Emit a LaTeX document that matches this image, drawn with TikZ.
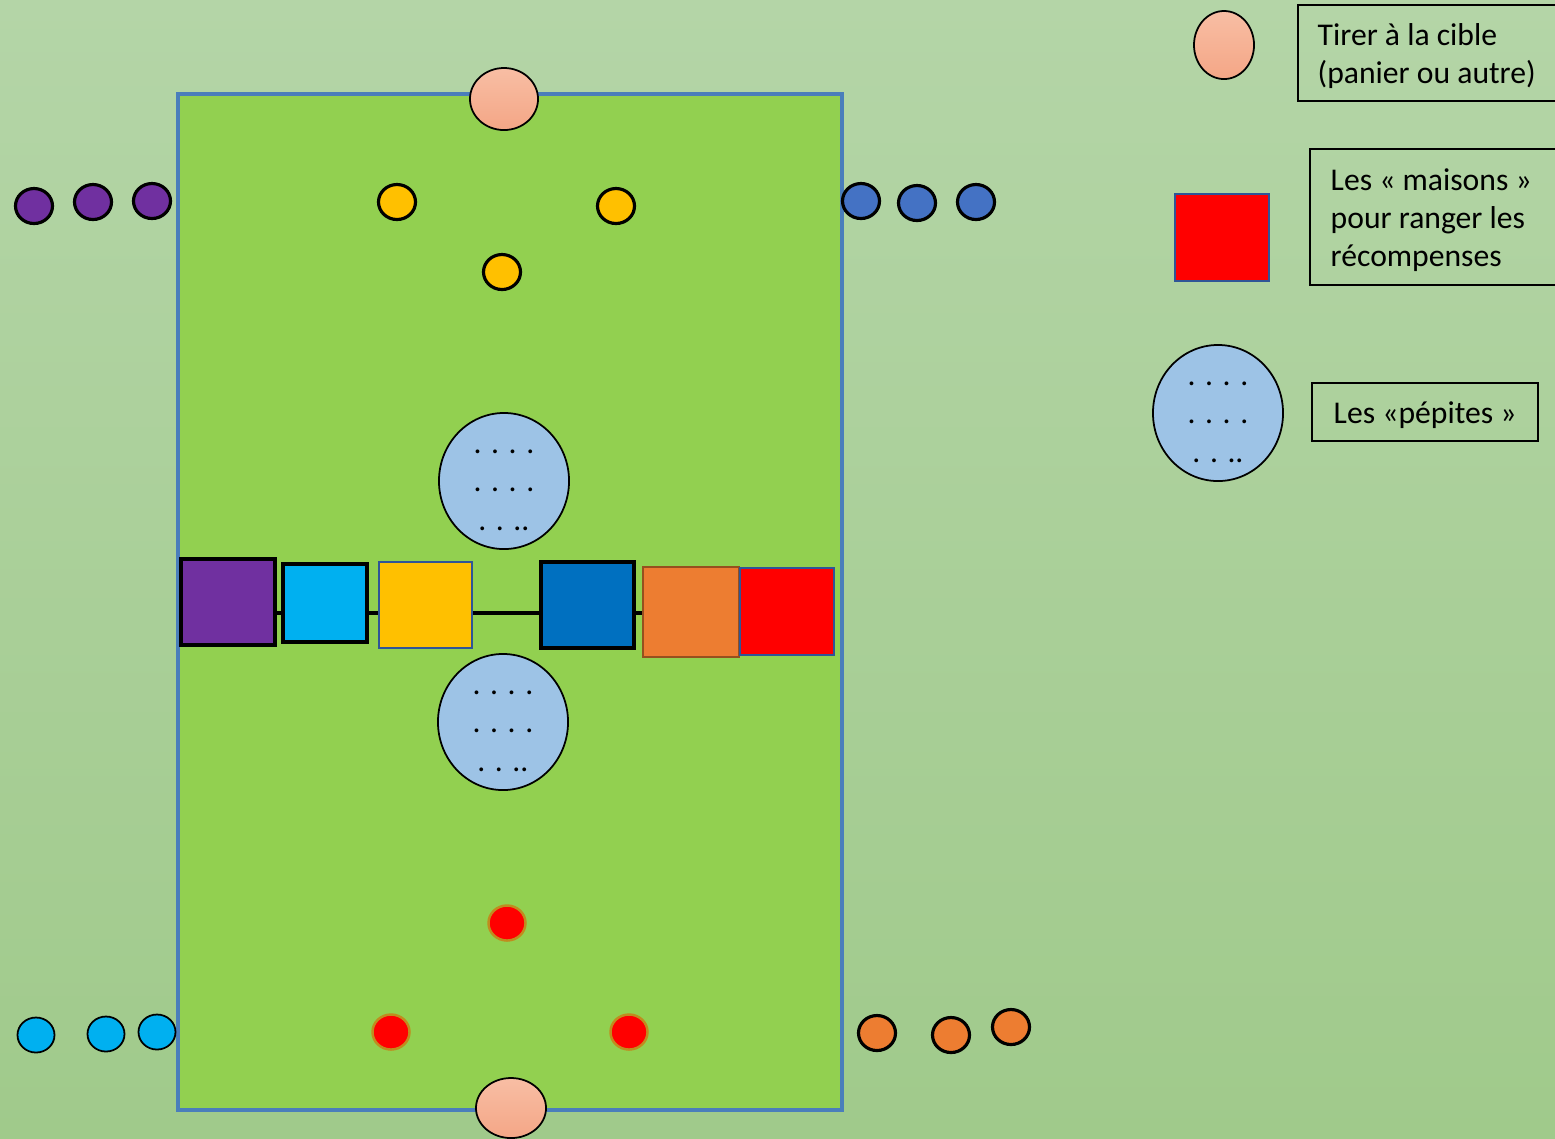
\documentclass[tikz,border=0pt]{standalone}
\usepackage{fontspec}
\setmainfont{Carlito}
\usetikzlibrary{shapes.geometric}
\definecolor{bgtop}{RGB}{180,213,167}
\definecolor{bgbot}{RGB}{160,202,139}
\definecolor{field}{RGB}{146,208,80}
\definecolor{fieldline}{RGB}{74,126,187}
\definecolor{tgtop}{RGB}{248,190,164}
\definecolor{tgbot}{RGB}{244,166,134}
\definecolor{purp}{RGB}{112,48,160}
\definecolor{sky}{RGB}{0,176,240}
\definecolor{gold}{RGB}{255,192,0}
\definecolor{dblue}{RGB}{0,112,192}
\definecolor{orng}{RGB}{237,125,49}
\definecolor{mblue}{RGB}{68,114,196}
\definecolor{pale}{RGB}{157,195,230}
\definecolor{navy}{RGB}{47,85,151}
\definecolor{redline}{RGB}{192,140,30}
\definecolor{orline}{RGB}{150,80,30}
\begin{document}
\begin{tikzpicture}[x=0.01cm,y=-0.01cm,
  target/.style={ellipse, draw=black, line width=0.5pt, inner sep=0pt, top color=tgtop, bottom color=tgbot},
  dot/.style={ellipse, draw=black, line width=0.9pt, inner sep=0pt, minimum width=0.37cm, minimum height=0.35cm},
  thindot/.style={dot, line width=0.5pt},
  reddot/.style={dot, fill=red, draw=redline, line width=0.7pt},
  pepite/.style={ellipse, draw=black, line width=0.5pt, fill=pale, inner sep=0pt, minimum width=1.30cm, minimum height=1.36cm},
  house/.style={rectangle, inner sep=0pt, line width=1.3pt, draw=black},
  dots/.style={align=center, font=\fontsize{9pt}{11pt}\selectfont, inner sep=0pt},
  legbox/.style={draw=black, line width=0.7pt},
  legtext/.style={anchor=west, align=left, inner sep=0pt, font=\fontsize{9pt}{10.8pt}\selectfont}
]
\useasboundingbox (0,0) rectangle (1555,1138);
% background
\shade[top color=bgtop, bottom color=bgbot] (0,0) rectangle (1555,1138);
% field
\draw[fill=field, draw=fieldline, line width=0.9pt] (178,94) rectangle (842,1110);

% connecting line
\coordinate (la) at (270,613);
\coordinate (lb) at (645,613);
\draw[line width=1.2pt, black] (la) -- (lb);

% houses
\node[house, fill=purp, minimum width=0.94cm, minimum height=0.86cm] (hpurple) at (228,602) {};
\node[house, fill=sky, minimum width=0.84cm, minimum height=0.78cm] (hsky) at (325,603) {};
\node[house, fill=gold, draw=navy, line width=0.8pt, minimum width=0.93cm, minimum height=0.86cm] (hgold) at (425.5,605) {};
\node[house, fill=dblue, minimum width=0.93cm, minimum height=0.86cm] (hdblue) at (587.5,605) {};
\node[house, fill=orng, draw=orline, line width=0.4pt, minimum width=0.96cm, minimum height=0.90cm] (horange) at (691,612) {};
\node[house, fill=red, draw=navy, line width=0.8pt, minimum width=0.94cm, minimum height=0.87cm] (hred) at (787,611.5) {};

% targets
\node[target, minimum width=0.68cm, minimum height=0.62cm] (ttop) at (504,99) {};
\node[target, minimum width=0.70cm, minimum height=0.60cm] (tbot) at (511,1108) {};

% pepites
\node[pepite] (ptop) at (504,481) {};
\node[dots] (ptoptext) at (504,490) {. . . .\\. . . .\\. . ..};
\node[pepite] (pbot) at (503,722) {};
\node[dots] (pbottext) at (503,731) {. . . .\\. . . .\\. . ..};

% purple dots
\node[dot, fill=purp] (pu1) at (34,206) {};
\node[dot, fill=purp] (pu2) at (93,202) {};
\node[dot, fill=purp] (pu3) at (152,201) {};
% blue dots
\node[dot, fill=mblue] (bl1) at (861,201) {};
\node[dot, fill=mblue] (bl2) at (917,203) {};
\node[dot, fill=mblue] (bl3) at (976,202) {};
% yellow dots
\node[dot, fill=gold] (ye1) at (397,202) {};
\node[dot, fill=gold] (ye2) at (616,206) {};
\node[dot, fill=gold] (ye3) at (502,272) {};
% cyan dots
\node[thindot, fill=sky] (cy1) at (36,1035) {};
\node[thindot, fill=sky] (cy2) at (106,1034) {};
\node[thindot, fill=sky] (cy3) at (157,1032) {};
% red dots
\node[reddot] (rd1) at (507,923) {};
\node[reddot] (rd2) at (391,1032) {};
\node[reddot] (rd3) at (629,1032) {};
% orange dots
\node[dot, fill=orng] (or1) at (877,1033) {};
\node[dot, fill=orng] (or2) at (951,1035) {};
\node[dot, fill=orng] (or3) at (1011,1027) {};

% legend
\node[target, minimum width=0.60cm, minimum height=0.68cm] (ltarget) at (1224,45) {};
\draw[legbox] (1298,5) rectangle (1600,101);
\node[legtext] (ltext1) at (1317,56) {Tirer à la cible\\(panier ou autre)};

\node[house, fill=red, draw=navy, line width=0.8pt, minimum width=0.94cm, minimum height=0.87cm] (lhouse) at (1222,237.5) {};
\draw[legbox] (1310,149) rectangle (1600,285);
\node[legtext] (ltext2) at (1330,220) {Les « maisons »\\pour ranger les\\récompenses};

\node[pepite] (lpepite) at (1218,413) {};
\node[dots] (lpeptext) at (1218,422) {. . . .\\. . . .\\. . ..};
\draw[legbox] (1312,383) rectangle (1538,441);
\node[legtext] (ltext3) at (1333,415) {Les «pépites »};
\end{tikzpicture}
\end{document}
